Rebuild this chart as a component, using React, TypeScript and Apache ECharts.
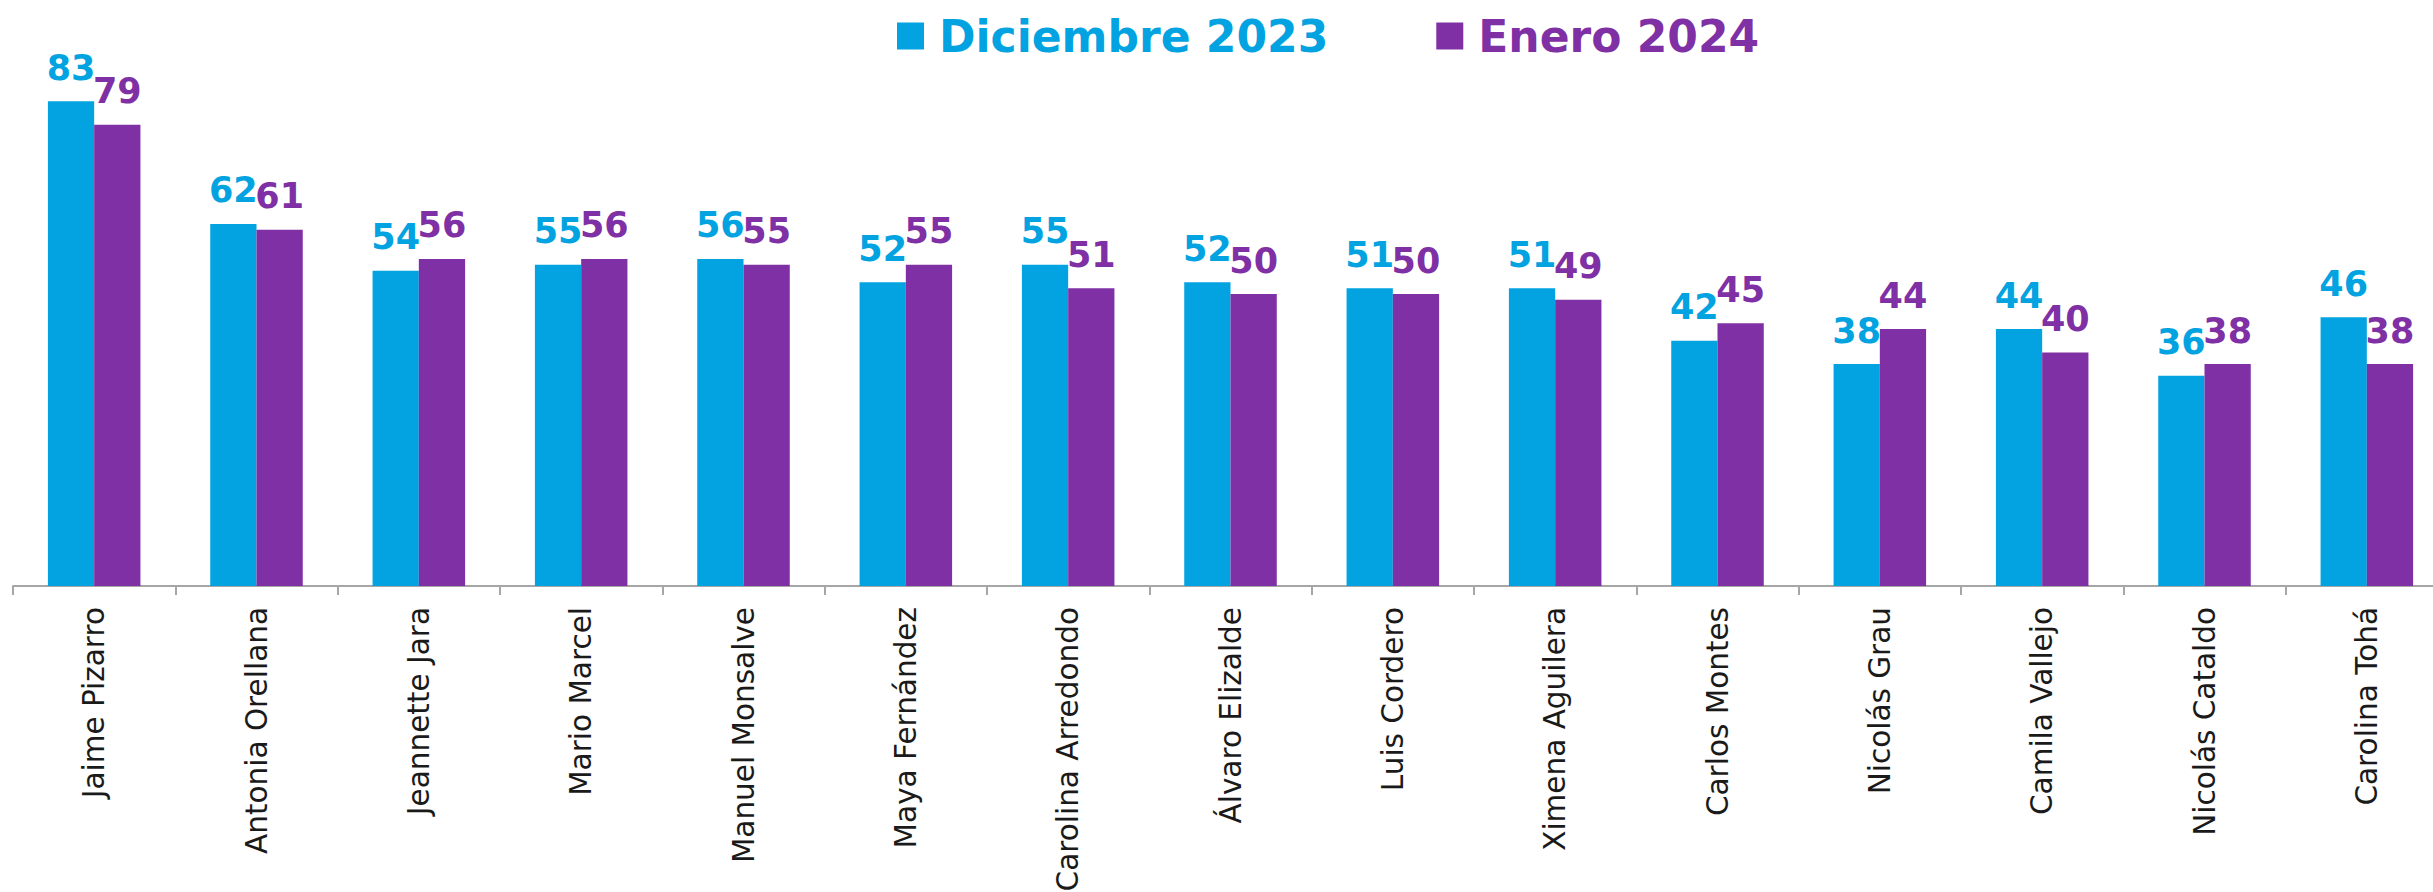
import React, { useEffect, useRef } from "react";
import * as echarts from "echarts";

const categories = [
  "Jaime Pizarro",
  "Antonia Orellana",
  "Jeannette Jara",
  "Mario Marcel",
  "Manuel Monsalve",
  "Maya Fernández",
  "Carolina Arredondo",
  "Álvaro Elizalde",
  "Luis Cordero",
  "Ximena Aguilera",
  "Carlos Montes",
  "Nicolás Grau",
  "Camila Vallejo",
  "Nicolás Cataldo",
  "Carolina Tohá",
];
const dic2023 = [83, 62, 54, 55, 56, 52, 55, 52, 51, 51, 42, 38, 44, 36, 46];
const ene2024 = [79, 61, 56, 56, 55, 55, 51, 50, 50, 49, 45, 44, 40, 38, 38];
const seriesNames = ["Diciembre 2023", "Enero 2024"];

const BLUE = "#02a3e0";
const PURPLE = "#7f30a4";

export default function App() {
  const ref = useRef<HTMLDivElement>(null);
  useEffect(() => {
    document.body.style.margin = "0";
    if (!ref.current) return;
    const chart = echarts.init(ref.current, undefined, { renderer: "svg" });
    const labelStyle = (color: string) => ({
      show: true,
      position: "top" as const,
      distance: 16,
      color,
      fontFamily: "DejaVu Sans",
      fontWeight: "bold" as const,
      fontSize: 35,
    });
    chart.setOption({
      animation: false,
      backgroundColor: "#ffffff",
      legend: {
        left: 892,
        top: 9,
        icon: "rect",
        itemWidth: 27,
        itemHeight: 27,
        itemGap: 108,
        textStyle: {
          fontFamily: "DejaVu Sans",
          fontWeight: "bold",
          fontSize: 44,
          padding: [0, 0, 0, 10],
        },
        data: [
          { name: seriesNames[0], textStyle: { color: BLUE } },
          { name: seriesNames[1], textStyle: { color: PURPLE } },
        ],
      },
      grid: {
        left: 13,
        right: -15,
        top: 2,
        bottom: 306,
        containLabel: false,
        outerBoundsMode: "none",
      },
      xAxis: {
        type: "category",
        data: categories,
        axisLine: { show: true, lineStyle: { color: "#a6a6a6", width: 2 } },
        axisTick: { show: true, length: 9, lineStyle: { color: "#a6a6a6", width: 2 } },
        axisLabel: {
          rotate: 90,
          margin: 21,
          color: "#1a1a1a",
          fontFamily: "DejaVu Sans",
          fontSize: 29.5,
          interval: 0,
        },
      },
      yAxis: {
        type: "value",
        min: 0,
        max: 100,
        show: false,
        splitLine: { show: false },
      },
      series: [
        {
          name: seriesNames[0],
          type: "bar",
          data: dic2023,
          itemStyle: { color: BLUE },
          barGap: "0%",
          barCategoryGap: "43%",
          label: labelStyle(BLUE),
        },
        {
          name: seriesNames[1],
          type: "bar",
          data: ene2024,
          itemStyle: { color: PURPLE },
          barGap: "0%",
          barCategoryGap: "43%",
          label: labelStyle(PURPLE),
        },
      ],
    });
    return () => chart.dispose();
  }, []);
  return <div ref={ref} style={{ width: 2433, height: 892 }} />;
}
